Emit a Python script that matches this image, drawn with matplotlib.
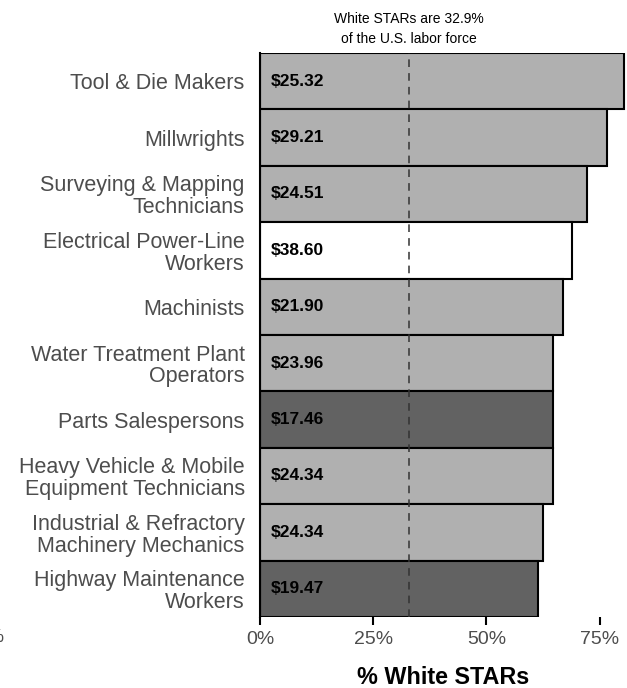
import matplotlib.pyplot as plt

plt.rcParams['font.family'] = ['Liberation Sans', 'DejaVu Sans']

occupations = [
    "Tool & Die Makers",
    "Millwrights",
    "Surveying & Mapping\nTechnicians",
    "Electrical Power-Line\nWorkers",
    "Machinists",
    "Water Treatment Plant\nOperators",
    "Parts Salespersons",
    "Heavy Vehicle & Mobile\nEquipment Technicians",
    "Industrial & Refractory\nMachinery Mechanics",
    "Highway Maintenance\nWorkers",
]
pct_white = [80.3, 76.5, 72.1, 68.9, 66.9, 64.6, 64.6, 64.6, 62.5, 61.4]
wages = ["$25.32", "$29.21", "$24.51", "$38.60", "$21.90",
         "$23.96", "$17.46", "$24.34", "$24.34", "$19.47"]
wage_group = ["mid", "mid", "mid", "high", "mid",
              "mid", "low", "mid", "mid", "low"]
labor_force_share = 32.9

group_colors = {"low": "#626262", "mid": "#b0b0b0", "high": "#ffffff"}

fig = plt.figure(figsize=(6.27, 6.88), dpi=100)
ax = fig.add_axes([260 / 627, 1 - 617 / 688, 366 / 627, 564 / 688])

y = list(range(len(occupations)))
ax.barh(y, pct_white, height=1.0,
        color=[group_colors[g] for g in wage_group],
        edgecolor="black", linewidth=1.5)

for yi, w in zip(y, wages):
    ax.text(2.3, yi, w, va="center", ha="left", fontsize=12.5,
            fontweight="bold", color="black")

ax.axvline(labor_force_share, color="#333333", linestyle=(0, (5, 4)),
           linewidth=1.1)
ax.text(labor_force_share, -0.63,
        "White STARs are 32.9%\nof the U.S. labor force",
        ha="center", va="bottom", fontsize=10, linespacing=1.55,
        color="black")

ax.set_ylim(len(occupations) - 0.5, -0.5)
ax.set_xlim(0, 80.8)
ax.set_yticks(y)
ax.set_yticklabels(occupations, fontsize=15.5, color="#4d4d4d",
                   linespacing=1.05)
ax.tick_params(axis="y", length=0, pad=11)
ax.set_xticks([0, 25, 50, 75])
ax.set_xticklabels(["0%", "25%", "50%", "75%"], fontsize=14,
                   color="#4d4d4d")
ax.tick_params(axis="x", length=6, width=1.5, color="black", pad=4)

for side in ["top", "right", "bottom"]:
    ax.spines[side].set_visible(False)
ax.spines["left"].set_linewidth(1.5)

ax.set_xlabel("% White STARs", fontsize=16.8, fontweight="bold",
              labelpad=13)

# leftover tick label at the left edge
fig.text(4 / 627, 1 - 638 / 688, "75%", ha="right", va="center",
         fontsize=14, color="#4d4d4d")

fig.savefig("out.png", dpi=100)
